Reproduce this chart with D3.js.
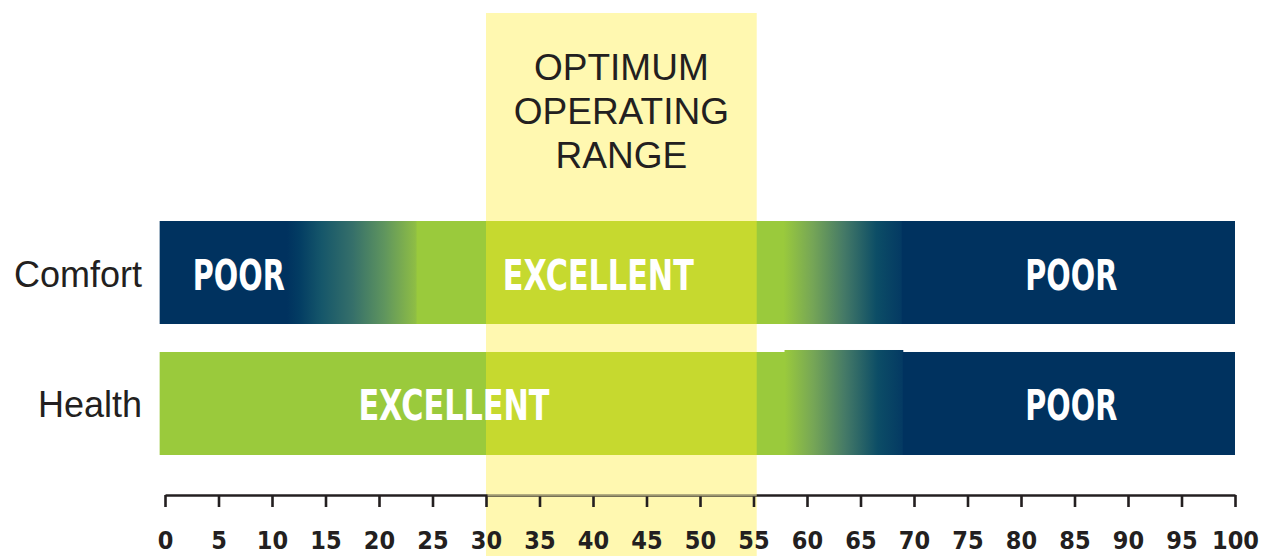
<!DOCTYPE html>
<html>
<head>
<meta charset="utf-8">
<script src="https://cdn.jsdelivr.net/npm/d3@7"></script>
<style>
  html, body { margin: 0; padding: 0; background: #ffffff; }
  svg { display: block; }
</style>
</head>
<body>
<svg id="chart" width="1264" height="556"></svg>
<script>
// ---------------- DATA ----------------
const rows = ["Comfort", "Health"];
const tickValues = [0, 5, 10, 15, 20, 25, 30, 35, 40, 45, 50, 55, 60, 65, 70, 75, 80, 85, 90, 95, 100];
const optimumRange = [30, 55.3];
const optimumTitle = ["OPTIMUM", "OPERATING", "RANGE"];
const barExtent = [-0.5, 100];

// colour stops along the 0-100 scale for each row
const comfortStops = [
  [-0.5, "#00325f"], [11.4, "#00325f"], [12.6, "#033d63"], [14.6, "#15566a"],
  [17.5, "#356f6a"], [20.5, "#5f955e"], [23.4, "#8ebd45"], [23.6, "#9aca3c"],
  [57.8, "#9aca3c"], [60.5, "#76a656"], [63.5, "#447967"], [66.5, "#0c4d66"],
  [68.8, "#043a63"], [68.9, "#00325f"], [100, "#00325f"]
];
const healthStops = [
  [-0.5, "#9aca3c"], [57.9, "#9aca3c"], [60.6, "#76a656"], [63.6, "#447967"],
  [66.6, "#0c4d66"], [68.9, "#043a63"], [69.0, "#00325f"], [100, "#00325f"]
];
const healthRaisedSegment = [57.9, 69.0];

// band labels: row, text, centre value on the scale
const bandLabels = [
  { row: "Comfort", text: "POOR", at: 6.9 },
  { row: "Comfort", text: "EXCELLENT", at: 40.5 },
  { row: "Comfort", text: "POOR", at: 84.7 },
  { row: "Health", text: "EXCELLENT", at: 27.0 },
  { row: "Health", text: "POOR", at: 84.7 }
];

// ---------------- CHART ----------------
const svg = d3.select("#chart");
const W = 1264, H = 556;

const x = d3.scaleLinear().domain([0, 100]).range([165, 1235]);
const y = d3.scaleBand().domain(rows).range([221, 455]).paddingInner(0.2137).paddingOuter(0);

const NAVY = "#00325f", GREEN = "#9aca3c", OVERLAP = "#c6d92f", BAND = "#fff8b0", INK = "#231f20";
const condensed = "'Liberation Sans Narrow', 'DejaVu Sans Condensed', 'Arial Narrow', sans-serif";
const sans = "'Liberation Sans', Arial, Helvetica, sans-serif";

// optimum band background
svg.append("rect")
  .attr("x", x(optimumRange[0]))
  .attr("y", 13)
  .attr("width", x(optimumRange[1]) - x(optimumRange[0]))
  .attr("height", H - 13)
  .attr("fill", BAND);

// gradients
const defs = svg.append("defs");
function makeGradient(id, stops) {
  const x0 = x(barExtent[0]), x1 = x(barExtent[1]);
  const g = defs.append("linearGradient")
    .attr("id", id)
    .attr("gradientUnits", "userSpaceOnUse")
    .attr("x1", x0).attr("x2", x1).attr("y1", 0).attr("y2", 0);
  g.selectAll("stop").data(stops).join("stop")
    .attr("offset", d => (x(d[0]) - x0) / (x1 - x0))
    .attr("stop-color", d => d[1]);
}
makeGradient("grad-Comfort", comfortStops);
makeGradient("grad-Health", healthStops);

// bars
svg.selectAll("rect.bar").data(rows).join("rect")
  .attr("class", "bar")
  .attr("x", x(barExtent[0]))
  .attr("y", d => y(d))
  .attr("width", x(barExtent[1]) - x(barExtent[0]))
  .attr("height", y.bandwidth())
  .attr("fill", d => `url(#grad-${d})`);

// slightly raised transition segment of the Health bar (as in the original)
svg.append("rect")
  .attr("x", x(healthRaisedSegment[0]))
  .attr("y", y("Health") - 2)
  .attr("width", x(healthRaisedSegment[1]) - x(healthRaisedSegment[0]))
  .attr("height", 3)
  .attr("fill", "url(#grad-Health)");

// overlap of optimum band with bars
svg.selectAll("rect.overlap").data(rows).join("rect")
  .attr("class", "overlap")
  .attr("x", x(optimumRange[0]))
  .attr("y", d => y(d))
  .attr("width", x(optimumRange[1]) - x(optimumRange[0]))
  .attr("height", y.bandwidth())
  .attr("fill", OVERLAP);

// axis
const axisY = 495;
const axis = d3.axisBottom(x)
  .tickValues(tickValues)
  .tickSize(12)
  .tickSizeOuter(0)
  .tickPadding(24)
  .tickFormat(d3.format("d"));
const gAxis = svg.append("g").attr("transform", `translate(0,${axisY})`).call(axis);
gAxis.select(".domain").attr("stroke", INK).attr("stroke-width", 2.6);
gAxis.selectAll(".tick line").attr("stroke", INK).attr("stroke-width", 2.6);
gAxis.selectAll(".tick text")
  .attr("fill", INK)
  .style("font-family", condensed)
  .style("font-weight", "bold")
  .style("font-size", "25px");

// tint the axis line inside the optimum band
svg.append("rect")
  .attr("x", x(optimumRange[0]) + 1.5)
  .attr("y", axisY - 1.3)
  .attr("width", x(optimumRange[1]) - x(optimumRange[0]) - 1.5)
  .attr("height", 2.6)
  .attr("fill", BAND)
  .attr("opacity", 0.55);

// title in band
svg.append("g").selectAll("text").data(optimumTitle).join("text")
  .attr("x", (x(optimumRange[0]) + x(optimumRange[1])) / 2)
  .attr("y", (d, i) => 80 + i * 44)
  .attr("text-anchor", "middle")
  .attr("fill", INK)
  .style("font-family", sans)
  .style("font-size", "37px")
  .text(d => d);

// row labels
svg.append("g").selectAll("text").data(rows).join("text")
  .attr("x", 142)
  .attr("y", d => y(d) + y.bandwidth() / 2 + 14)
  .attr("text-anchor", "end")
  .attr("fill", INK)
  .style("font-family", sans)
  .style("font-size", "36px")
  .text(d => d);

// band labels
const labelWidth = { "POOR": 92, "EXCELLENT": 191 };
svg.append("g").selectAll("text").data(bandLabels).join("text")
  .attr("x", d => x(d.at))
  .attr("y", d => y(d.row) + y.bandwidth() / 2 + 17)
  .attr("text-anchor", "middle")
  .attr("fill", "#ffffff")
  .attr("textLength", d => labelWidth[d.text])
  .attr("lengthAdjust", "spacingAndGlyphs")
  .style("font-family", condensed)
  .style("font-weight", "bold")
  .style("font-size", "43px")
  .text(d => d.text);
</script>
</body>
</html>
